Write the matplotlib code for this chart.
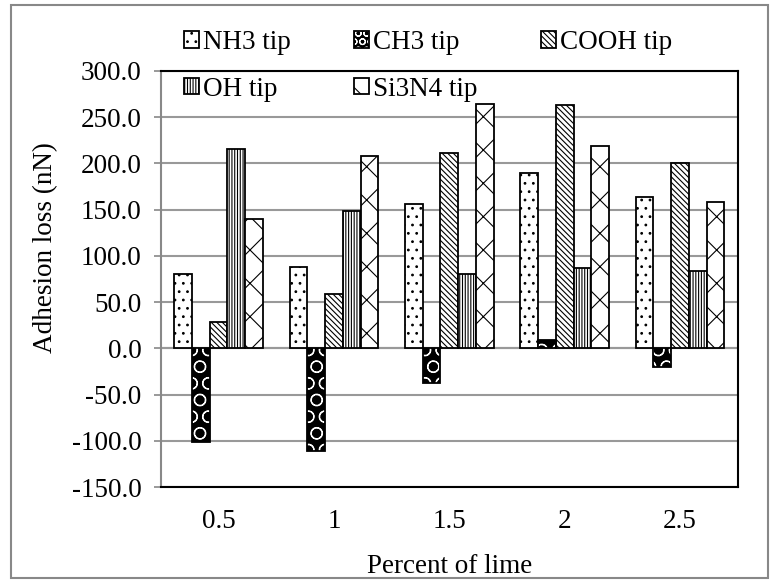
import matplotlib as mpl
mpl.use('Agg')
import matplotlib.pyplot as plt
from matplotlib.patches import Rectangle, Patch
from matplotlib.legend_handler import HandlerTuple
import numpy as np

# data
LIME = ['0.5', '1', '1.5', '2', '2.5']
NH3 = [80.0, 88.0, 156.0, 190.0, 164.0]
CH3 = [-101.0, -111.0, -37.0, 9.0, -20.0]
COOH = [28.5, 58.5, 211.0, 263.0, 200.0]
OH = [215.5, 148.0, 80.5, 87.0, 83.5]
SI3N4 = [139.5, 208.0, 264.0, 219.0, 158.0]
LABELS = ['NH3 tip', 'CH3 tip', 'COOH tip', 'OH tip', 'Si3N4 tip']

HATCHES = ['..', 'O', '\\\\\\\\\\\\', '||||||', 'x']

FONT = 'Liberation Serif'
FS = 19.5

mpl.rcParams['font.family'] = FONT
mpl.rcParams['hatch.linewidth'] = 0.8

fig = plt.figure(figsize=(7.7, 5.8), dpi=100)
ax = fig.add_axes([0.209, 0.160, 0.749, 0.718])

series = [NH3, CH3, COOH, OH, SI3N4]
x = np.arange(len(LIME))
w = 1 / 6.5
handles = []
for j, vals in enumerate(series):
    pos = x + (j - 2) * w
    if j == 1:
        # black bar with white circles
        ax.bar(pos, vals, w, color='black', hatch=HATCHES[j], edgecolor='white',
               linewidth=0, zorder=3)
        ax.bar(pos, vals, w, fill=False, edgecolor='black', linewidth=1.3, zorder=4)
        h = (Patch(facecolor='black', edgecolor='white', hatch='OO', linewidth=0),
             Patch(fill=False, edgecolor='black', linewidth=1.3))
    else:
        ax.bar(pos, vals, w, color='white', hatch=HATCHES[j], edgecolor='black',
               linewidth=1.3, zorder=3)
        h = Patch(facecolor='white', edgecolor='black', hatch=HATCHES[j], linewidth=1.3)
    handles.append(h)

ax.set_xlim(-0.5, len(LIME) - 0.5)
ax.set_ylim(-150, 300)
ax.set_yticks(np.arange(-150, 301, 50))
ax.set_yticklabels(['%0.1f' % v for v in np.arange(-150, 301, 50)], fontsize=FS)
ax.set_xticks(x)
ax.set_xticklabels(LIME, fontsize=FS)
ax.tick_params(axis='x', length=0, pad=16)
ax.tick_params(axis='y', length=5, color='#888888', width=1.2, pad=9)

ax.yaxis.grid(True, color='#999999', linewidth=1.5, zorder=0)
ax.set_axisbelow(True)
ax.axhline(0, color='#999999', linewidth=1.5, zorder=2)

for s in ['top', 'right', 'bottom']:
    ax.spines[s].set_color('black')
    ax.spines[s].set_linewidth(1.5)
ax.spines['left'].set_color('#888888')
ax.spines['left'].set_linewidth(1.5)

ax.set_ylabel('Adhesion loss (nN)', fontsize=FS)
ax.yaxis.set_label_coords(-0.179, 0.575)
ax.set_xlabel('Percent of lime', fontsize=FS, labelpad=14)

# legend is filled column by column, so reorder to get rows NH3/CH3/COOH, OH/Si3N4
order = [0, 3, 1, 4, 2]
leg = fig.legend([handles[i] for i in order], [LABELS[i] for i in order], ncol=3,
                 loc='upper left', bbox_to_anchor=(0.207, 0.99),
                 frameon=False, fontsize=FS, handlelength=0.55, handleheight=0.55,
                 handletextpad=0.15, columnspacing=2.35, labelspacing=0.8,
                 handler_map={tuple: HandlerTuple(ndivide=1, pad=0)})

fig.patches.append(Rectangle((0.014, 0.003), 0.983, 0.988, transform=fig.transFigure,
                             fill=False, edgecolor='#888888', linewidth=1.5))

plt.savefig('out.png', dpi=100)
